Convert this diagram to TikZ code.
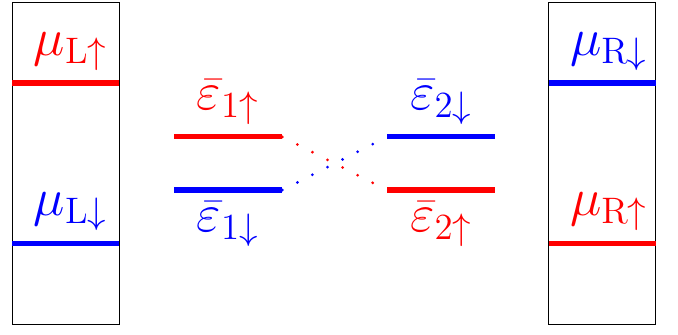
\documentclass[tikz,border=0pt]{standalone}
\usetikzlibrary{positioning}
\definecolor{cup}{HTML}{FF0000}
\definecolor{cdown}{HTML}{0000FF}
\tikzset{
  every picture/.style={font=\huge},
  lead/.style={draw=black, line width=0.4pt, minimum width=1.47cm, minimum height=4.42cm, inner sep=0pt},
  lvl/.style={fill=#1, inner sep=0pt, minimum width=1.48cm, minimum height=2pt},
  lbl/.style={text=#1},
  hop/.style={draw=#1, line width=1.2pt, line cap=round, dash pattern=on 0pt off 6.6pt},
}
\begin{document}
\begin{tikzpicture}
  \useasboundingbox (0,0) rectangle (9.31,4.60);
  % leads
  \node[lead] (leadL) at (0.90,2.35) {};
  \node[lead] (leadR) at (8.27,2.35) {};
  \node[lvl=cup,   minimum width=1.47cm] (muLu) at (0.90,3.46) {};
  \node[lvl=cdown, minimum width=1.47cm] (muLd) at (0.90,1.26) {};
  \node[lvl=cdown, minimum width=1.47cm] (muRd) at (8.27,3.46) {};
  \node[lvl=cup,   minimum width=1.47cm] (muRu) at (8.27,1.26) {};
  \node[lbl=cup,   above=0pt of muLu, xshift=0.7mm] (tLu) {$\mu_{\mathrm{L}\uparrow}$};
  \node[lbl=cdown, above=0pt of muLd, xshift=0.7mm] (tLd) {$\mu_{\mathrm{L}\downarrow}$};
  \node[lbl=cdown, above=0pt of muRd, xshift=0.9mm] (tRd) {$\mu_{\mathrm{R}\downarrow}$};
  \node[lbl=cup,   above=0pt of muRu, xshift=0.9mm] (tRu) {$\mu_{\mathrm{R}\uparrow}$};
  % dot levels
  \node[lvl=cup]   (e1u) at (3.13,2.72) {};
  \node[lvl=cdown] (e1d) at (3.13,1.99) {};
  \node[lvl=cdown] (e2d) at (6.06,2.72) {};
  \node[lvl=cup]   (e2u) at (6.06,1.99) {};
  \node[lbl=cup,   above=0pt of e1u] (t1u) {$\bar{\varepsilon}_{1\uparrow}$};
  \node[lbl=cdown, below=0pt of e1d] (t1d) {$\bar{\varepsilon}_{1\downarrow}$};
  \node[lbl=cdown, above=0pt of e2d] (t2d) {$\bar{\varepsilon}_{2\downarrow}$};
  \node[lbl=cup,   below=0pt of e2u] (t2u) {$\bar{\varepsilon}_{2\uparrow}$};
  % spin-conserving hopping
  \draw[hop=cup]   (e1u.east) -- (e2u.west);
  \draw[hop=cdown] (e1d.east) -- (e2d.west);
\end{tikzpicture}
\end{document}
